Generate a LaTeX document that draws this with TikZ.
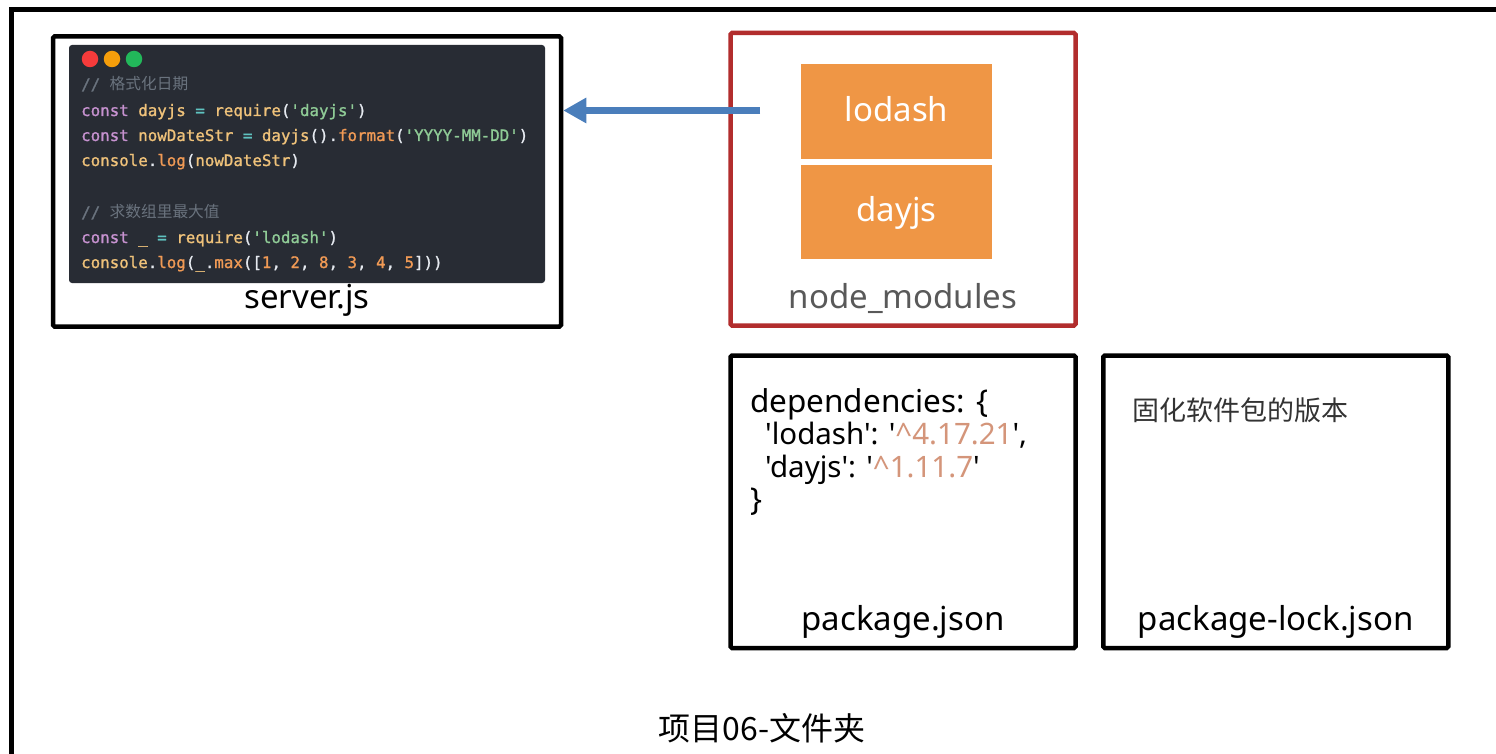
\documentclass[tikz,border=0pt]{standalone}
\usepackage{fontspec}
\usetikzlibrary{arrows.meta}
\newfontfamily\lab{Noto Sans}
\newfontfamily\cjk{Noto Sans CJK SC}
\newfontfamily\codefont{DejaVu Sans Mono}[FakeBold=1.2]
\definecolor{panelbg}{HTML}{282C34}
\definecolor{ckwc}{HTML}{C792D0}
\definecolor{cidc}{HTML}{EFC27A}
\definecolor{copc}{HTML}{5FC3C0}
\definecolor{cstrc}{HTML}{8FCB96}
\definecolor{cfnc}{HTML}{F09A55}
\definecolor{cfgc}{HTML}{E6EAF0}
\definecolor{ccmc}{HTML}{6A737E}
\definecolor{nmred}{HTML}{B22D2D}
\definecolor{pkgorange}{HTML}{EF9645}
\definecolor{arrblue}{HTML}{4A7EBB}
\definecolor{vercol}{HTML}{D4957A}
\definecolor{labgray}{HTML}{595959}
\definecolor{txtdark}{HTML}{333333}
\definecolor{lightred}{HTML}{F63B3B}
\definecolor{lightorange}{HTML}{F59E0B}
\definecolor{lightgreen}{HTML}{22B85A}
\newcommand\ckw[1]{\textcolor{ckwc}{#1}}
\newcommand\cid[1]{\textcolor{cidc}{#1}}
\newcommand\cop[1]{\textcolor{copc}{#1}}
\newcommand\cstr[1]{\textcolor{cstrc}{#1}}
\newcommand\cfn[1]{\textcolor{cfnc}{#1}}
\newcommand\cfg[1]{\textcolor{cfgc}{#1}}
\newcommand\ccm[1]{\textcolor{ccmc}{#1}}
\begin{document}
\begin{tikzpicture}[x=1pt,y=-1pt,
  blackbox/.style={draw=black, line width=4.5pt, rounded corners=1.5pt, inner sep=0pt},
  redbox/.style={draw=nmred, line width=4.5pt, rounded corners=1.5pt, inner sep=0pt},
  pkgbox/.style={fill=pkgorange, minimum width=191pt, minimum height=94.5pt, inner sep=0pt},
  pkgtext/.style={text=white, font=\lab\fontsize{33}{36}\selectfont, inner sep=0pt, anchor=base},
  label/.style={font=\lab\fontsize{33}{36}\selectfont, inner sep=0pt, anchor=base},
  codeline/.style={font=\codefont\fontsize{15.8}{18}\selectfont, inner sep=0pt, anchor=base west},
  jsonline/.style={font=\lab\fontsize{31.5}{36}\selectfont, inner sep=0pt, anchor=base west},
  light/.style={circle, minimum size=16.5pt, inner sep=0pt},
  arr/.style={draw=arrblue, line width=7pt, -{Triangle[length=23pt,width=24pt]}}
]
\useasboundingbox (0,0) rectangle (1496,754);
\clip (0,0) rectangle (1496,754);
\fill[white] (0,0) rectangle (1496,754);
% outer folder frame
\draw[line width=5pt] (11,770) -- (11,9.5) -- (1520,9.5);

% server.js
\node[blackbox, minimum width=508pt, minimum height=290pt] (server) at (307,181.5) {};
\node[fill=panelbg, rounded corners=3pt, minimum width=476pt, minimum height=238pt, inner sep=0pt] (panel) at (307,164) {};
\node[light, fill=lightred] (lred) at (90,59) {};
\node[light, fill=lightorange] (lorange) at (112,59) {};
\node[light, fill=lightgreen] (lgreen) at (134,59) {};
\node[codeline] (c1) at (81,90) {\ccm{// {\cjk\fontsize{15.7}{18}\selectfont 格式化日期}}};
\node[codeline] (c2) at (81,116) {\ckw{const} \cid{dayjs} \cop{=} \cid{require}\cfg{(}\cstr{'dayjs'}\cfg{)}};
\node[codeline] (c3) at (81,141) {\ckw{const} \cid{nowDateStr} \cop{=} \cid{dayjs}\cfg{().}\cfn{format}\cfg{(}\cstr{'YYYY-MM-DD'}\cfg{)}};
\node[codeline] (c4) at (81,166) {\cid{console}\cfg{.}\cfn{log}\cfg{(}\cid{nowDateStr}\cfg{)}};
\node[codeline] (c5) at (81,218) {\ccm{// {\cjk\fontsize{15.7}{18}\selectfont 求数组里最大值}}};
\node[codeline] (c6) at (81,243) {\ckw{const} \cid{\_} \cop{=} \cid{require}\cfg{(}\cstr{'lodash'}\cfg{)}};
\node[codeline] (c7) at (81,268) {\cid{console}\cfg{.}\cfn{log}\cfg{(}\cid{\_}\cfg{.}\cfn{max}\cfg{([}\cfn{1}\cfg{, }\cfn{2}\cfg{, }\cfn{8}\cfg{, }\cfn{3}\cfg{, }\cfn{4}\cfg{, }\cfn{5}\cfg{]))}};
\node[label] (serverlab) at (307,308) {server.js};

% node_modules
\node[redbox, minimum width=345pt, minimum height=292.5pt] (nm) at (903,179.25) {};
\node[pkgbox] (lodash) at (896.5,111.3) {};
\node[pkgtext] (lodashtxt) at (896.5,122) {lodash};
\node[pkgbox] (dayjs) at (896.5,212) {};
\node[pkgtext] (dayjstxt) at (896.5,222) {dayjs};
\node[label, text=labgray] (nmlab) at (903,308) {node\_modules};

% arrow
\coordinate (tail) at (760,110.5);
\draw[arr] (tail) -- (tail -| server.east);

% package.json
\node[blackbox, minimum width=345pt, minimum height=292.5pt] (pkg) at (903,501.75) {};
\node[jsonline] (j1) at (750,412) {dependencies: \{};
\node[jsonline, font=\lab\fontsize{29.5}{34}\selectfont] (j2) at (765,444) {'lodash': '\textcolor{vercol}{\string^4.17.21}',};
\node[jsonline, font=\lab\fontsize{29.5}{34}\selectfont] (j3) at (765,477) {'dayjs': '\textcolor{vercol}{\string^1.11.7}'};
\node[jsonline] (j4) at (750,510) {\}};
\node[label] (pkglab) at (903,630) {package.json};

% package-lock.json
\node[blackbox, minimum width=345pt, minimum height=292.5pt] (lock) at (1275.75,501.75) {};
\node[font=\cjk\fontsize{27}{30}\selectfont, text=txtdark, inner sep=0pt, anchor=west] (locktxt) at (1132,410) {固化软件包的版本};
\node[label] (locklab) at (1275.75,630) {package-lock.json};

% folder caption
\node[font=\cjk\fontsize{32}{36}\selectfont, inner sep=0pt] (folder) at (762,728) {项目06-文件夹};
\end{tikzpicture}
\end{document}
